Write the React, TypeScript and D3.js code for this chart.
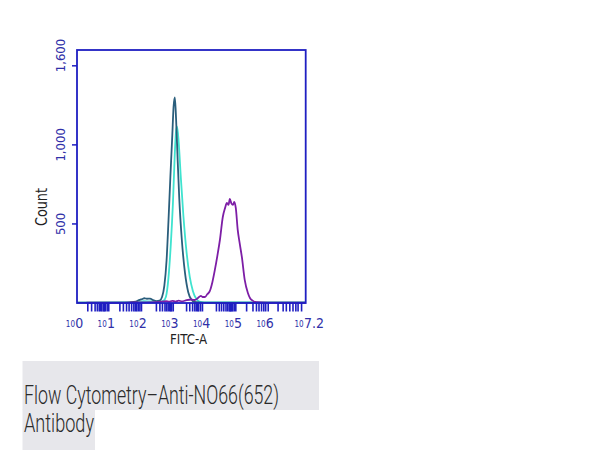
import React from "react";
import * as d3 from "d3";

// ---- data (x in log10 units of FITC-A, y in counts) ----
const tealSeries: [number, number][] = [
  [0, 2], [1.6, 3], [1.85, 8], [1.95, 18], [2.05, 25], [2.12, 30], [2.2, 27], [2.3, 28],
  [2.4, 18], [2.5, 12], [2.6, 15], [2.68, 40], [2.75, 110], [2.82, 270], [2.88, 520],
  [2.94, 800], [3.0, 1060], [3.04, 1240], [3.08, 1300], [3.12, 1160], [3.17, 900],
  [3.22, 660], [3.3, 400], [3.4, 190], [3.5, 70], [3.6, 22], [3.7, 7], [4.0, 3], [7.2, 2],
];
const cyanSeries: [number, number][] = [
  [0, 3], [1.9, 5], [2.1, 12], [2.3, 10], [2.6, 8], [2.72, 14], [2.8, 40], [2.88, 160],
  [2.95, 360], [3.02, 630], [3.08, 950], [3.12, 1090], [3.15, 1115], [3.2, 1020],
  [3.27, 790], [3.35, 550], [3.45, 320], [3.55, 165], [3.65, 75], [3.75, 28], [3.85, 9],
  [4.0, 4], [7.2, 4],
];
const purpleSeries: [number, number][] = [
  [0.3, 2], [1.5, 3], [2.5, 5], [2.8, 12], [2.9, 8], [3.0, 14], [3.1, 9], [3.2, 15],
  [3.3, 10], [3.45, 18], [3.6, 22], [3.71, 19], [3.8, 30], [3.9, 45], [3.95, 38],
  [4.03, 38], [4.1, 55], [4.18, 75], [4.26, 130], [4.34, 209], [4.42, 300], [4.5, 400],
  [4.59, 544], [4.66, 600], [4.72, 633], [4.77, 620], [4.81, 658], [4.86, 630],
  [4.91, 620], [4.95, 640], [5.0, 600], [5.06, 462], [5.12, 380], [5.19, 291],
  [5.28, 146], [5.38, 63], [5.45, 30], [5.53, 15], [5.65, 5], [6.0, 3], [7.2, 2],
];
const rugPositions: number[] = [
  0.34, 0.46, 0.57, 0.64, 0.7, 0.74, 0.78, 0.83, 0.86, 0.89, 0.95, 1.0,
  1.35, 1.46, 1.56, 1.64, 1.72, 1.79, 1.84, 1.88, 1.93, 1.98, 2.03,
  2.5, 2.61, 2.69, 2.77, 2.82, 2.87, 2.92, 2.95, 2.98, 3.03,
  3.45, 3.55, 3.64, 3.71, 3.76, 3.8, 3.83, 3.89, 3.95,
  4.39, 4.48, 4.55, 4.62, 4.69, 4.74, 4.79, 4.82, 4.84, 4.87, 4.9, 4.95, 5.0,
  5.34, 5.54, 5.65, 5.73, 5.81, 5.88, 5.94, 6.02,
  6.33, 6.49, 6.59, 6.7, 6.8, 6.89, 6.96, 7.07,
];
const xTickExponents: string[] = ["0", "1", "2", "3", "4", "5", "6", "7.2"];
const yTickValues: number[] = [500, 1000, 1500];
const yTickLabels: string[] = ["500", "1,000", "1,600"];
const yLabelValues: number[] = [500, 1000, 1565];
const xTitle = "FITC-A";
const yTitle = "Count";
const captionLine1 = "Flow Cytometry\u2013Anti-NO66(652)";
const captionLine2 = "Antibody";

const AXIS = "#1f1fc2";
const LABEL = "#3030a8";
const COND = "'DejaVu Sans Condensed', 'Liberation Sans', sans-serif";
const CAP = "Roboto, 'Liberation Sans', sans-serif";

export default function App() {
  const W = 600, H = 450;
  const x = d3.scaleLog().domain([1, Math.pow(10, 7.2)]).range([77, 305.7]);
  const y = d3.scaleLinear().domain([0, 1600]).range([303, 50]);
  const line = d3
    .line<[number, number]>()
    .x((d) => x(Math.pow(10, d[0])))
    .y((d) => y(d[1]))
    .curve(d3.curveMonotoneX);

  const [x0, x1] = x.range();
  const [yb, yt] = y.range();

  return (
    <svg
      width={W}
      height={H}
      style={{ position: "absolute", left: 0, top: 0, background: "#fff" }}
    >
      <rect x={0} y={0} width={W} height={H} fill="#fff" />
      {/* curves */}
      <path d={line(cyanSeries) || ""} fill="none" stroke="#3fe3cf" strokeWidth={1.8} />
      <path d={line(tealSeries) || ""} fill="none" stroke="#2a5e7c" strokeWidth={1.8} />
      <path d={line(purpleSeries) || ""} fill="none" stroke="#7d1ea6" strokeWidth={1.8} />

      {/* rug ticks */}
      {rugPositions.map((r, i) => (
        <line
          key={"r" + i}
          x1={x(Math.pow(10, r))}
          x2={x(Math.pow(10, r))}
          y1={yb}
          y2={yb + 8.5}
          stroke={AXIS}
          strokeWidth={1.6}
        />
      ))}

      {/* frame */}
      <rect x={x0} y={yt} width={x1 - x0} height={yb - yt} fill="none" stroke={AXIS} strokeWidth={1.8} />

      {/* y ticks */}
      {yTickValues.map((v, i) => (
        <line key={"yt" + i} x1={x0 - 5} x2={x0} y1={y(v)} y2={y(v)} stroke={AXIS} strokeWidth={1.5} />
      ))}
      {yTickLabels.map((t, i) => (
        <text
          key={"yl" + i}
          transform={`translate(64.5,${y(yLabelValues[i])}) rotate(-90)`}
          textAnchor="middle"
          fontFamily={COND}
          fontSize={13}
          fill={LABEL}
        >
          {t}
        </text>
      ))}

      {/* x tick labels */}
      {xTickExponents.map((e, i) => {
        const tx = x(Math.pow(10, parseFloat(e)));
        return (
          <g key={"xl" + i}>
            <text x={tx - 2} y={327} textAnchor="end" fontFamily={COND} fontSize={8} fill={LABEL}>
              10
            </text>
            <text x={tx - 1.8} y={328} textAnchor="start" fontFamily={COND} fontSize={14} fill={LABEL}>
              {e}
            </text>
          </g>
        );
      })}

      {/* axis titles */}
      <text x={188.5} y={344} textAnchor="middle" fontFamily={COND} fontSize={14.5} fill="#222"
        textLength={37} lengthAdjust="spacingAndGlyphs">
        {xTitle}
      </text>
      <text
        transform={`translate(47,207) rotate(-90)`}
        textAnchor="middle"
        fontFamily={COND}
        fontSize={15}
        fill="#222"
        textLength={38}
        lengthAdjust="spacingAndGlyphs"
      >
        {yTitle}
      </text>

      {/* caption */}
      <rect x={22.5} y={361} width={296.5} height={49} fill="#e7e7eb" />
      <rect x={22.5} y={409.5} width={72.5} height={40.5} fill="#e7e7eb" />
      <text
        x={24}
        y={404}
        fontFamily={CAP}
        fontWeight={300}
        fontSize={25}
        fill="#2a2a2a"
        textLength={255}
        lengthAdjust="spacingAndGlyphs"
      >
        {captionLine1}
      </text>
      <text
        x={24}
        y={432}
        fontFamily={CAP}
        fontWeight={300}
        fontSize={25}
        fill="#2a2a2a"
        textLength={70}
        lengthAdjust="spacingAndGlyphs"
      >
        {captionLine2}
      </text>
    </svg>
  );
}
